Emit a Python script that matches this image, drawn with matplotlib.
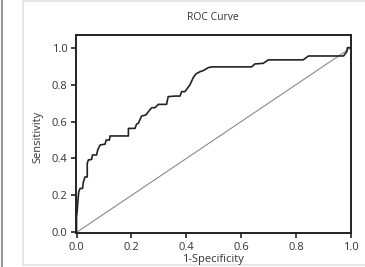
import matplotlib
matplotlib.use("Agg")
import matplotlib.pyplot as plt
from matplotlib.lines import Line2D

plt.rcParams['font.family'] = ['Open Sans', 'DejaVu Sans']

# ROC curve points
fpr = [0.0, 0.0, 0.003, 0.005, 0.008, 0.013, 0.022, 0.025, 0.031, 0.039, 0.039, 0.043,
       0.055, 0.058, 0.073, 0.077, 0.086, 0.104, 0.108, 0.120, 0.122, 0.189, 0.189,
       0.213, 0.219, 0.225, 0.237, 0.253, 0.262, 0.274, 0.286, 0.298, 0.328, 0.334,
       0.359, 0.377, 0.383, 0.395, 0.413, 0.426, 0.435, 0.450, 0.462, 0.480, 0.493,
       0.638, 0.650, 0.680, 0.699, 0.826, 0.845, 0.973, 0.985, 0.987, 1.0]
tpr = [0.0, 0.08, 0.13, 0.17, 0.22, 0.238, 0.238, 0.274, 0.300, 0.300, 0.374, 0.392,
       0.395, 0.419, 0.419, 0.446, 0.473, 0.478, 0.500, 0.500, 0.522, 0.522, 0.563,
       0.563, 0.587, 0.590, 0.630, 0.636, 0.654, 0.675, 0.675, 0.693, 0.693, 0.735,
       0.738, 0.738, 0.762, 0.762, 0.798, 0.840, 0.858, 0.870, 0.876, 0.892, 0.896,
       0.896, 0.912, 0.915, 0.934, 0.934, 0.955, 0.955, 0.979, 1.0, 1.0]
ticks = [0.0, 0.2, 0.4, 0.6, 0.8, 1.0]

fig = plt.figure(figsize=(3.65, 2.67), dpi=100)
ax = fig.add_axes([0.2082, 0.1262, 0.7548, 0.7416])

ax.plot([0, 1], [0, 1], color="#8a8a8a", lw=0.8)
ax.plot(fpr, tpr, color="#222222", lw=1.2)

ax.set_xlim(-0.002, 1.002)
ax.set_ylim(-0.005, 1.067)
ax.set_xticks(ticks)
ax.set_yticks(ticks)
ax.set_xticklabels([f"{t:.1f}" for t in ticks])
ax.set_yticklabels([f"{t:.1f}" for t in ticks])
ax.tick_params(direction="out", length=3.5, width=1.2, labelsize=8, pad=2.5,
               colors="#222222", labelcolor="#333333")
for s in ax.spines.values():
    s.set_linewidth(1.4)
    s.set_color("#222222")

fig.text(0.583, 0.934, "ROC Curve", ha="center", va="center", fontsize=7.5, color="#333333")
fig.text(0.583, 0.029, "1-Specificity", ha="center", va="center", fontsize=8, color="#333333")
fig.text(0.104, 0.487, "Sensitivity", ha="center", va="center", rotation=90,
         fontsize=8, color="#333333")

# page frame around the chart
fig.add_artist(Line2D([2 / 365, 2 / 365], [0, 1], transform=fig.transFigure,
                      color="#9a9a9a", lw=1.5))
fig.add_artist(Line2D([23 / 365, 23 / 365, 1.0], [2 / 267, 266 / 267, 266 / 267],
                      transform=fig.transFigure, color="#e2e2e2", lw=1.2))
fig.add_artist(Line2D([23 / 365, 1.0], [2 / 267, 2 / 267],
                      transform=fig.transFigure, color="#e2e2e2", lw=1.2))

fig.savefig("out.png", dpi=100)
